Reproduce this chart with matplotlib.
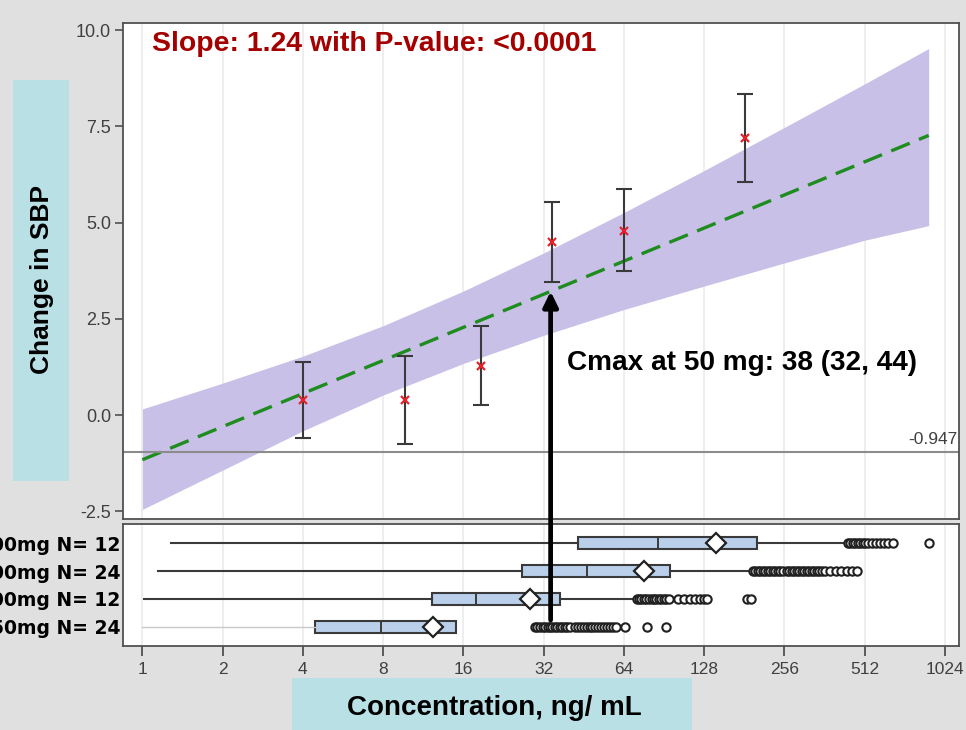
import math
import matplotlib
matplotlib.use('Agg')
import matplotlib.pyplot as plt
from matplotlib.patches import ConnectionPatch, Rectangle

# binned observed change in SBP: mean and 90% CI
bin_conc = [4.0, 9.7, 18.6, 34.4, 64.0, 183.0]
bin_mean = [0.39, 0.39, 1.28, 4.50, 4.79, 7.19]
bin_lo = [-0.59, -0.75, 0.26, 3.46, 3.75, 6.05]
bin_hi = [1.38, 1.54, 2.32, 5.54, 5.87, 8.34]

# linear fit on ln(concentration)
slope = 1.24
intercept = -1.16
fit_range = [1.0, 891.0]

# 90% confidence band of the fit
band_conc = [1, 2, 4, 8, 16, 32, 64, 128, 256, 512, 891]
band_lo = [-2.45, -1.43, -0.41, 0.52, 1.34, 2.07, 2.74, 3.35, 3.95, 4.54, 4.92]
band_hi = [0.16, 0.83, 1.53, 2.32, 3.22, 4.21, 5.26, 6.35, 7.47, 8.60, 9.52]

baseline = -0.947
arrow_conc = 34.0

# concentration distribution per dose group (top to bottom)
dose_labels = ['400mg N= 12', '200mg N= 24', '100mg N= 12', '50mg N= 24']
box_whislo = [1.28, 1.14, 1.01, 1.0]
box_q1 = [42.9, 26.5, 12.2, 4.46]
box_med = [85.6, 46.6, 17.9, 7.83]
box_mean = [141.7, 76.3, 28.4, 12.3]
box_q3 = [203.0, 95.2, 36.8, 15.0]
box_whishi = [443.0, 195.0, 71.4, 15.0]
box_fliers = [
    [443, 452.7, 462.5, 472.6, 482.9, 493.4, 504.2, 515.2, 526.4, 545.6,
     564, 584, 605, 626, 652, 891],
    [195.0, 199.3, 203.6, 208.0, 212.6, 217.2, 221.9, 226.8, 231.7, 236.8,
     241.9, 247.2, 252.6, 261.6, 267.3, 273.1, 279.1, 285.2, 291.4, 297.7,
     304.2, 310.9, 317.6, 324.6, 331.6, 338.9, 346.3, 353.8, 363.2, 380.9,
     399.4, 418.8, 439.2, 460.5, 478.7],
    [71.4, 73.0, 74.5, 76.2, 77.8, 79.5, 81.3, 83.0, 84.8, 86.7, 88.6, 90.5,
     92.5, 94.5, 102.1, 107.5, 113.2, 118.2, 123.4, 127.7, 131.1, 185.2, 191.7],
    [29.7, 30.3, 31.0, 31.7, 32.4, 33.1, 33.8, 34.5, 35.3, 36.0, 36.8, 37.6,
     38.5, 39.3, 40.2, 41.9, 43.0, 44.1, 45.2, 46.4, 47.6, 48.8, 50.1, 51.4,
     52.7, 54.1, 55.5, 56.9, 58.4, 60.0, 64.6, 77.9, 92.5],
]

xticks = [1, 2, 4, 8, 16, 32, 64, 128, 256, 512, 1024]
yticks = [-2.5, 0.0, 2.5, 5.0, 7.5, 10.0]

arial = ['Liberation Sans', 'DejaVu Sans']


def fit_at(c):
    return intercept + slope * math.log(c)


fig = plt.figure(figsize=(9.66, 7.30), dpi=100, facecolor='#e0e0e0')
ax = fig.add_axes([0.1278, 0.2890, 0.8654, 0.6799])
ax2 = fig.add_axes([0.1278, 0.1144, 0.8654, 0.1678])

for a in (ax, ax2):
    a.set_xscale('log', base=2)
    a.set_xlim(0.849, 1162)
    a.set_xticks(xticks)
    a.minorticks_off()
    a.grid(axis='x', color='#ebebeb', lw=1.2)
    a.set_axisbelow(True)
    for s in a.spines.values():
        s.set_color('#505050')
        s.set_linewidth(1.3)

# upper panel: fit, band and binned observations
ax.fill_between(band_conc, band_lo, band_hi, color='#c9c0e8', lw=0)
ax.plot(fit_range, [fit_at(c) for c in fit_range], color='#1e8c1e', lw=2.4,
        ls=(0, (6, 3)))
ax.axhline(baseline, color='#8c8c8c', lw=1.5)
ax.text(1140, baseline + 0.12, '%.3f' % baseline, ha='right', va='bottom',
        fontsize=12.5, color='#404040', family=arial)
yerr = [[m - lo for m, lo in zip(bin_mean, bin_lo)],
        [hi - m for m, hi in zip(bin_mean, bin_hi)]]
ax.errorbar(bin_conc, bin_mean, yerr=yerr, fmt='none', ecolor='#3a3a3a',
            elinewidth=1.5, capsize=5.5, capthick=1.5)
ax.plot(bin_conc, bin_mean, ls='none', marker='x', ms=6, mew=1.6,
        color='#e8202a')

ax.set_ylim(-2.70, 10.19)
ax.set_yticks(yticks)
ax.set_yticklabels(['%.1f' % v for v in yticks], family=arial, fontsize=13,
                   color='#404040')
ax.tick_params(axis='y', length=6, width=1.2, color='#505050', pad=3)
ax.tick_params(axis='x', length=0, labelbottom=False)

# lower panel: concentration box plots
stats = []
for i in range(len(dose_labels)):
    stats.append(dict(whislo=box_whislo[i], q1=box_q1[i], med=box_med[i],
                      q3=box_q3[i], whishi=box_whishi[i], mean=box_mean[i],
                      fliers=box_fliers[i]))
pos = [4, 3, 2, 1]
bp = ax2.bxp(stats, positions=pos, vert=False, widths=0.42, showmeans=True,
             showcaps=False, patch_artist=True,
             boxprops=dict(facecolor='#b9cfea', edgecolor='#3a3a3a', lw=1.5),
             medianprops=dict(color='#3a3a3a', lw=1.4),
             whiskerprops=dict(color='#3a3a3a', lw=1.5),
             meanprops=dict(marker='D', markerfacecolor='white',
                            markeredgecolor='#202020', markersize=10.5,
                            mew=1.6),
             flierprops=dict(marker='o', markerfacecolor='white',
                             markeredgecolor='#202020', markersize=6, mew=1.5))
bp['whiskers'][6].set_color('#c8c8c8')
bp['whiskers'][6].set_linewidth(1.0)

ax2.set_ylim(0.29, 4.69)
ax2.set_yticks(pos)
ax2.set_yticklabels(dose_labels, fontsize=13.5, fontweight='bold',
                    family='DejaVu Sans')
ax2.tick_params(axis='y', length=0, pad=2)
ax2.set_xticklabels([str(t) for t in xticks], family=arial, fontsize=12.5,
                    color='#404040')
ax2.tick_params(axis='x', length=7, width=1.3, color='#505050', pad=4)

# arrow from the 50 mg group up to the fitted line
arr = ConnectionPatch(xyA=(arrow_conc, 1.24), coordsA=ax2.transData,
                      xyB=(arrow_conc, fit_at(arrow_conc)),
                      coordsB=ax.transData,
                      arrowstyle='-|>,head_length=0.45,head_width=0.22',
                      mutation_scale=20, lw=3.4, color='black')
fig.add_artist(arr)

# axis label panels
fig.add_artist(Rectangle((13 / 966, 1 - 481 / 730), 56 / 966, 401 / 730,
                         transform=fig.transFigure, color='#b9e1e5', lw=0))
fig.add_artist(Rectangle((292 / 966, 0), 400 / 966, 52 / 730,
                         transform=fig.transFigure, color='#b9e1e5', lw=0))
fig.text(42 / 966, 1 - 279 / 730, 'Change in SBP', rotation=90, ha='center',
         va='center', fontsize=19, fontweight='bold', family=arial)
fig.text(494 / 966, 1 - 708 / 730, 'Concentration, ng/ mL', ha='center',
         va='center', fontsize=20, fontweight='bold', family=arial)

fig.text(152 / 966, 1 - 44 / 730, 'Slope: 1.24 with P-value: <0.0001',
         ha='left', va='center', fontsize=20.4, fontweight='bold',
         color='#a50000', family=arial)
fig.text(567 / 966, 1 - 363 / 730, 'Cmax at 50 mg: 38 (32, 44)', ha='left',
         va='center', fontsize=20.2, fontweight='bold', family=arial)

fig.savefig('out.png', dpi=100, facecolor=fig.get_facecolor())
